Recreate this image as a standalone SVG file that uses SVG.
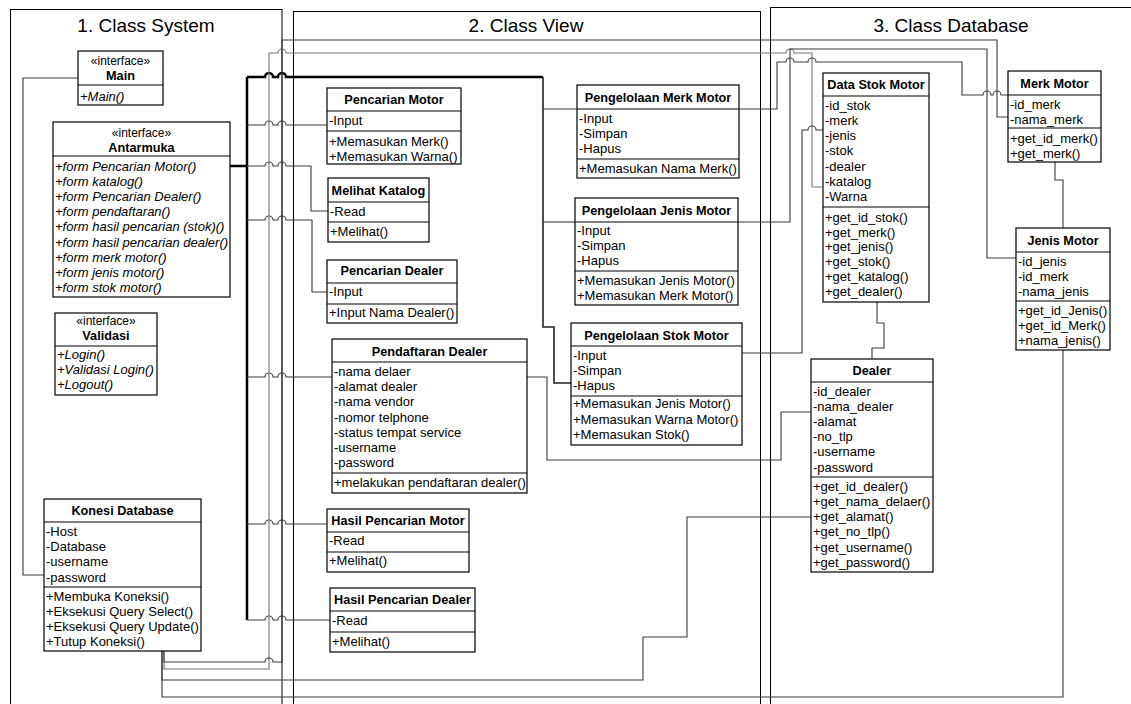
<svg xmlns="http://www.w3.org/2000/svg" width="1131" height="704" viewBox="0 0 1131 704">
<style>
.bg{fill:#fff}
.box{fill:#fff;stroke:#000;stroke-width:1.2}
.dv{stroke:#000;stroke-width:1.2}
.t{font-family:"Liberation Sans",Arial,sans-serif;font-size:13px;fill:#000}
.st{font-family:"Liberation Sans",Arial,sans-serif;font-size:12px;fill:#000;text-anchor:middle}
.h{font-family:"Liberation Sans",Arial,sans-serif;font-size:12.7px;font-weight:bold;fill:#000;text-anchor:middle}
.i{font-style:italic}
.frame{fill:none;stroke:#000;stroke-width:1}
.title{font-family:"Liberation Sans",Arial,sans-serif;font-size:19px;text-anchor:middle;fill:#000}
.cn{fill:none;stroke:#3a3a3a;stroke-width:1.1}
.cg{fill:none;stroke:#777;stroke-width:1.1}
.thick{fill:none;stroke:#000;stroke-width:2.5}
.med{fill:none;stroke:#222;stroke-width:1.6}
</style>
<rect class="bg" x="0" y="0" width="1131" height="704"/>

<g id="panels">
<rect class="frame" x="10.5" y="9.5" width="271.5" height="720"/>
<rect class="frame" x="293.5" y="11.5" width="467" height="720"/>
<rect class="frame" x="770.5" y="7.5" width="400" height="720"/>
<text class="title" x="146" y="32">1. Class System</text>
<text class="title" x="526" y="32">2. Class View</text>
<text class="title" x="951" y="32">3. Class Database</text>
</g>

<g id="connectors">
<!-- Main to Konesi -->
<path class="cn" d="M78 78 H23 V575 H44"/>
<!-- Antarmuka bus -->
<path class="thick" d="M230 166 H247"/>
<path class="thick" d="M247 77 V620"/>
<path class="thick" d="M247 77 H265 a4 4 0 0 1 8 0 H278 a4 4 0 0 1 8 0 H543"/>
<path class="med" d="M543 77 V327 H554 V383 H571"/>
<path class="cn" d="M543 109 H577"/>
<path class="cn" d="M543 222 H575"/>
<path class="cn" d="M247 125 H265 a4 4 0 0 1 8 0 H278 a4 4 0 0 1 8 0 H327"/>
<path class="cn" d="M247 166 H265 a4 4 0 0 1 8 0 H278 a4 4 0 0 1 8 0 H311 V211 H328"/>
<path class="cn" d="M247 220 H265 a4 4 0 0 1 8 0 H278 a4 4 0 0 1 8 0 H312 V292 H327"/>
<path class="cn" d="M247 377 H265 a4 4 0 0 1 8 0 H278 a4 4 0 0 1 8 0 H332"/>
<path class="cn" d="M247 524 H265 a4 4 0 0 1 8 0 H278 a4 4 0 0 1 8 0 H327"/>
<path class="cn" d="M247 620 H265 a4 4 0 0 1 8 0 H278 a4 4 0 0 1 8 0 H330"/>
<!-- Konesi Database to database classes -->
<path class="cg" d="M164 651 V669 H269 V53 H278 a4 4 0 0 1 8 0 H786 a4 4 0 0 1 8 0 H812 V187 H823"/>
<path class="cn" d="M164 651 V662 H265 a4 4 0 0 1 8 0 H282 V40 H997 V117 H1008"/>
<path class="cn" d="M162 651 V680 H643 V637 H687 V517 H811"/>
<path class="cn" d="M162 651 V697 H1063 V350"/>
<!-- View to database -->
<path class="cn" d="M739 109 H777 V62 H786 a4 4 0 0 1 8 0 H808 a4 4 0 0 1 8 0 H962 V95 H983 a4 4 0 0 1 8 0 H993 a4 4 0 0 1 8 0 H1008"/>
<path class="cn" d="M738 222 H790 V49 H987 V258 H1016"/>
<path class="cn" d="M742 353 H802 V130 H808 a4 4 0 0 1 8 0 H823"/>
<path class="cn" d="M527 377 H547 V460 H781 V412 H811"/>
<!-- database associations -->
<path class="cn" d="M877 302 V323 H884 V348 H872 V359"/>
<path class="cn" d="M1055 162 V180 H1063 V228"/>
</g>

<g id="Main">
<rect class="box" x="78" y="51" width="85" height="54"/>
<line class="dv" x1="78" y1="85" x2="163" y2="85"/>
<text class="st" x="120.5" y="65">«interface»</text>
<text class="h" x="120.5" y="80">Main</text>
<text class="t i" x="80" y="101">+Main()</text>
</g>

<g id="Antarmuka">
<rect class="box" x="53" y="122" width="177" height="175"/>
<line class="dv" x1="53" y1="156" x2="230" y2="156"/>
<text class="st" x="141.5" y="137">«interface»</text>
<text class="h" x="141.5" y="152">Antarmuka</text>
<text class="t i" x="55" y="170.5">+form Pencarian Motor()</text>
<text class="t i" x="55" y="185.7">+form katalog()</text>
<text class="t i" x="55" y="200.9">+form Pencarian Dealer()</text>
<text class="t i" x="55" y="216.1">+form pendaftaran()</text>
<text class="t i" x="55" y="231.3">+form hasil pencarian (stok)()</text>
<text class="t i" x="55" y="246.5">+form hasil pencarian dealer()</text>
<text class="t i" x="55" y="261.7">+form merk motor()</text>
<text class="t i" x="55" y="276.9">+form jenis motor()</text>
<text class="t i" x="55" y="292.1">+form stok motor()</text>
</g>

<g id="Validasi">
<rect class="box" x="55" y="313" width="102" height="82"/>
<line class="dv" x1="55" y1="346" x2="157" y2="346"/>
<text class="st" x="106" y="325">«interface»</text>
<text class="h" x="106" y="339.5">Validasi</text>
<text class="t i" x="57" y="358.5">+Login()</text>
<text class="t i" x="57" y="374">+Validasi Login()</text>
<text class="t i" x="57" y="389">+Logout()</text>
</g>

<g id="KonesiDatabase">
<rect class="box" x="44" y="499" width="157" height="152"/>
<line class="dv" x1="44" y1="522" x2="201" y2="522"/>
<line class="dv" x1="44" y1="587" x2="201" y2="587"/>
<text class="h" x="122.5" y="515">Konesi Database</text>
<text class="t" x="46" y="536">-Host</text>
<text class="t" x="46" y="551.2">-Database</text>
<text class="t" x="46" y="566.4">-username</text>
<text class="t" x="46" y="581.6">-password</text>
<text class="t" x="46" y="600.5">+Membuka Koneksi()</text>
<text class="t" x="46" y="615.7">+Eksekusi Query Select()</text>
<text class="t" x="46" y="630.9">+Eksekusi Query Update()</text>
<text class="t" x="46" y="646.1">+Tutup Koneksi()</text>
</g>

<g id="PencarianMotor">
<rect class="box" x="327" y="88" width="134" height="76"/>
<line class="dv" x1="327" y1="111" x2="461" y2="111"/>
<line class="dv" x1="327" y1="131" x2="461" y2="131"/>
<text class="h" x="394" y="103.5">Pencarian Motor</text>
<text class="t" x="329" y="124.5">-Input</text>
<text class="t" x="329" y="145.5">+Memasukan Merk()</text>
<text class="t" x="329" y="160.5">+Memasukan Warna()</text>
</g>

<g id="MelihatKatalog">
<rect class="box" x="328" y="178" width="101" height="64"/>
<line class="dv" x1="328" y1="202" x2="429" y2="202"/>
<line class="dv" x1="328" y1="222" x2="429" y2="222"/>
<text class="h" x="378.5" y="195">Melihat Katalog</text>
<text class="t" x="330" y="215.5">-Read</text>
<text class="t" x="330" y="236">+Melihat()</text>
</g>

<g id="PencarianDealer">
<rect class="box" x="327" y="260" width="130" height="63"/>
<line class="dv" x1="327" y1="283" x2="457" y2="283"/>
<line class="dv" x1="327" y1="304" x2="457" y2="304"/>
<text class="h" x="392" y="275">Pencarian Dealer</text>
<text class="t" x="329" y="295.5">-Input</text>
<text class="t" x="329" y="317">+Input Nama Dealer()</text>
</g>

<g id="PendaftaranDealer">
<rect class="box" x="332" y="339" width="195" height="154"/>
<line class="dv" x1="332" y1="362" x2="527" y2="362"/>
<line class="dv" x1="332" y1="473" x2="527" y2="473"/>
<text class="h" x="429.5" y="355.5">Pendaftaran Dealer</text>
<text class="t" x="334" y="376">-nama delaer</text>
<text class="t" x="334" y="391.2">-alamat dealer</text>
<text class="t" x="334" y="406.4">-nama vendor</text>
<text class="t" x="334" y="421.6">-nomor telphone</text>
<text class="t" x="334" y="436.8">-status tempat service</text>
<text class="t" x="334" y="452">-username</text>
<text class="t" x="334" y="467.2">-password</text>
<text class="t" x="334" y="487">+melakukan pendaftaran dealer()</text>
</g>

<g id="HasilPencarianMotor">
<rect class="box" x="327" y="509" width="142" height="63"/>
<line class="dv" x1="327" y1="532" x2="469" y2="532"/>
<line class="dv" x1="327" y1="552" x2="469" y2="552"/>
<text class="h" x="398" y="524.5">Hasil Pencarian Motor</text>
<text class="t" x="329" y="545">-Read</text>
<text class="t" x="329" y="565">+Melihat()</text>
</g>

<g id="HasilPencarianDealer">
<rect class="box" x="330" y="588" width="145" height="64"/>
<line class="dv" x1="330" y1="611" x2="475" y2="611"/>
<line class="dv" x1="330" y1="632" x2="475" y2="632"/>
<text class="h" x="402.5" y="604">Hasil Pencarian Dealer</text>
<text class="t" x="332" y="625">-Read</text>
<text class="t" x="332" y="645.5">+Melihat()</text>
</g>

<g id="PengelolaanMerkMotor">
<rect class="box" x="577" y="85" width="162" height="93"/>
<line class="dv" x1="577" y1="109" x2="739" y2="109"/>
<line class="dv" x1="577" y1="159" x2="739" y2="159"/>
<text class="h" x="658" y="101.5">Pengelolaan Merk Motor</text>
<text class="t" x="579" y="122.5">-Input</text>
<text class="t" x="579" y="137.5">-Simpan</text>
<text class="t" x="579" y="152.5">-Hapus</text>
<text class="t" x="579" y="172.5">+Memasukan Nama Merk()</text>
</g>

<g id="PengelolaanJenisMotor">
<rect class="box" x="575" y="198" width="163" height="107"/>
<line class="dv" x1="575" y1="222" x2="738" y2="222"/>
<line class="dv" x1="575" y1="271" x2="738" y2="271"/>
<text class="h" x="656.5" y="214.5">Pengelolaan Jenis Motor</text>
<text class="t" x="577" y="235">-Input</text>
<text class="t" x="577" y="250.2">-Simpan</text>
<text class="t" x="577" y="265.4">-Hapus</text>
<text class="t" x="577" y="284.5">+Memasukan Jenis Motor()</text>
<text class="t" x="577" y="300">+Memasukan Merk Motor()</text>
</g>

<g id="PengelolaanStokMotor">
<rect class="box" x="571" y="323" width="171" height="122"/>
<line class="dv" x1="571" y1="346" x2="742" y2="346"/>
<line class="dv" x1="571" y1="396" x2="742" y2="396"/>
<text class="h" x="656.5" y="339.5">Pengelolaan Stok Motor</text>
<text class="t" x="573" y="360">-Input</text>
<text class="t" x="573" y="375.2">-Simpan</text>
<text class="t" x="573" y="390.4">-Hapus</text>
<text class="t" x="573" y="408">+Memasukan Jenis Motor()</text>
<text class="t" x="573" y="423.5">+Memasukan Warna Motor()</text>
<text class="t" x="573" y="439">+Memasukan Stok()</text>
</g>

<g id="DataStokMotor">
<rect class="box" x="823" y="73" width="106" height="229"/>
<line class="dv" x1="823" y1="96" x2="929" y2="96"/>
<line class="dv" x1="823" y1="207" x2="929" y2="207"/>
<text class="h" x="876" y="88.5">Data Stok Motor</text>
<text class="t" x="825" y="109.5">-id_stok</text>
<text class="t" x="825" y="124.8">-merk</text>
<text class="t" x="825" y="140">-jenis</text>
<text class="t" x="825" y="155.3">-stok</text>
<text class="t" x="825" y="170.5">-dealer</text>
<text class="t" x="825" y="185.8">-katalog</text>
<text class="t" x="825" y="201">-Warna</text>
<text class="t" x="825" y="221.5">+get_id_stok()</text>
<text class="t" x="825" y="236.5">+get_merk()</text>
<text class="t" x="825" y="251.3">+get_jenis()</text>
<text class="t" x="825" y="266.3">+get_stok()</text>
<text class="t" x="825" y="281.3">+get_katalog()</text>
<text class="t" x="825" y="296.3">+get_dealer()</text>
</g>

<g id="MerkMotor">
<rect class="box" x="1008" y="71" width="93" height="91"/>
<line class="dv" x1="1008" y1="95" x2="1101" y2="95"/>
<line class="dv" x1="1008" y1="128" x2="1101" y2="128"/>
<text class="h" x="1054.5" y="87.5">Merk Motor</text>
<text class="t" x="1010" y="108.5">-id_merk</text>
<text class="t" x="1010" y="123.5">-nama_merk</text>
<text class="t" x="1010" y="142.5">+get_id_merk()</text>
<text class="t" x="1010" y="158">+get_merk()</text>
</g>

<g id="JenisMotor">
<rect class="box" x="1016" y="228" width="94" height="122"/>
<line class="dv" x1="1016" y1="252" x2="1110" y2="252"/>
<line class="dv" x1="1016" y1="301" x2="1110" y2="301"/>
<text class="h" x="1063" y="244.5">Jenis Motor</text>
<text class="t" x="1018" y="265.5">-id_jenis</text>
<text class="t" x="1018" y="280.5">-id_merk</text>
<text class="t" x="1018" y="295.5">-nama_jenis</text>
<text class="t" x="1018" y="315">+get_id_Jenis()</text>
<text class="t" x="1018" y="330">+get_id_Merk()</text>
<text class="t" x="1018" y="345">+nama_jenis()</text>
</g>

<g id="Dealer">
<rect class="box" x="811" y="359" width="122" height="213"/>
<line class="dv" x1="811" y1="382" x2="933" y2="382"/>
<line class="dv" x1="811" y1="477" x2="933" y2="477"/>
<text class="h" x="872" y="374.5">Dealer</text>
<text class="t" x="813" y="395.5">-id_dealer</text>
<text class="t" x="813" y="410.7">-nama_dealer</text>
<text class="t" x="813" y="425.9">-alamat</text>
<text class="t" x="813" y="441.1">-no_tlp</text>
<text class="t" x="813" y="456.3">-username</text>
<text class="t" x="813" y="471.5">-password</text>
<text class="t" x="813" y="490.5">+get_id_dealer()</text>
<text class="t" x="813" y="505.8">+get_nama_delaer()</text>
<text class="t" x="813" y="521.1">+get_alamat()</text>
<text class="t" x="813" y="536.4">+get_no_tlp()</text>
<text class="t" x="813" y="551.7">+get_username()</text>
<text class="t" x="813" y="567">+get_password()</text>
</g>
</svg>
